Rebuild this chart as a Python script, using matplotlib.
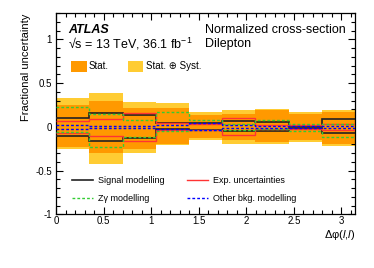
import numpy as np
import matplotlib
matplotlib.use("Agg")
import matplotlib.pyplot as plt
from matplotlib.patches import Rectangle
from matplotlib.lines import Line2D
from matplotlib.ticker import MultipleLocator, FormatStrFormatter

plt.rcParams["font.family"] = ["Liberation Sans", "DejaVu Sans"]
plt.rcParams["axes.unicode_minus"] = False
plt.rcParams["mathtext.fontset"] = "custom"
plt.rcParams["mathtext.rm"] = "Liberation Sans"
plt.rcParams["mathtext.it"] = "Liberation Sans:italic"

# 9 equal bins in delta phi(l,l)
edges = np.linspace(0, np.pi, 10)

stat_up = [0.25, 0.30, 0.22, 0.22, 0.14, 0.15, 0.19, 0.15, 0.17]
stat_dn = [-0.23, -0.30, -0.25, -0.19, -0.13, -0.155, -0.175, -0.15, -0.19]
tot_up = [0.335, 0.385, 0.29, 0.27, 0.17, 0.19, 0.21, 0.165, 0.19]
tot_dn = [-0.255, -0.42, -0.30, -0.205, -0.155, -0.195, -0.195, -0.17, -0.215]

sig_up = [0.107, 0.164, 0.137, 0.04, 0.045, 0.065, 0.061, 0.015, 0.086]
sig_dn = [-0.099, -0.16, -0.122, -0.02, -0.04, -0.05, -0.048, -0.01, -0.074]
exp_up = [0.069, 0.095, 0.16, 0.04, 0.03, 0.097, 0.023, 0.02, 0.03]
exp_dn = [-0.065, -0.099, -0.156, -0.03, -0.03, -0.093, -0.023, -0.02, -0.03]
zg_up = [0.229, 0.149, 0.08, 0.175, 0.084, 0.034, 0.084, 0.038, 0.03]
zg_dn = [-0.053, -0.225, -0.114, -0.046, -0.03, -0.03, -0.023, -0.046, -0.114]
bkg_up = [0.023, 0.015, 0.015, 0.02, 0.04, 0.02, 0.015, 0.015, 0.015]
bkg_dn = [-0.023, -0.015, -0.015, -0.023, -0.038, -0.015, -0.015, -0.015, -0.015]

C_STAT = "#ff9900"
C_TOT = "#ffcc33"
C_SIG = "#222222"
C_EXP = "#ff3333"
C_ZG = "#33cc33"
C_BKG = "#0000ff"

fig = plt.figure(figsize=(3.74, 2.68), dpi=100)
ax = fig.add_axes([0.150, 0.200, 0.799, 0.751])

ax.stairs(tot_up, edges, baseline=tot_dn, fill=True, color=C_TOT, lw=0, zorder=1)
ax.stairs(stat_up, edges, baseline=stat_dn, fill=True, color=C_STAT, lw=0, zorder=2)

styles = [
    (sig_up, sig_dn, dict(color=C_SIG, lw=1.2, ls="-")),
    (exp_up, exp_dn, dict(color=C_EXP, lw=1.0, ls="-")),
    (zg_up, zg_dn, dict(color=C_ZG, lw=1.0, ls=(0, (2.0, 1.5)))),
    (bkg_up, bkg_dn, dict(color=C_BKG, lw=1.0, ls=(0, (2.0, 1.5)))),
]
for i, (up, dn, kw) in enumerate(styles):
    ax.stairs(up, edges, baseline=None, zorder=3 + i, **kw)
    ax.stairs(dn, edges, baseline=None, zorder=3 + i, **kw)

ax.set_xlim(0, np.pi)
ax.set_ylim(-1, 1.3)
ax.xaxis.set_major_locator(MultipleLocator(0.5))
ax.xaxis.set_minor_locator(MultipleLocator(0.1))
ax.yaxis.set_major_locator(MultipleLocator(0.5))
ax.yaxis.set_minor_locator(MultipleLocator(0.1))
ax.xaxis.set_major_formatter(FormatStrFormatter("%g"))
ax.yaxis.set_major_formatter(FormatStrFormatter("%g"))
ax.tick_params(which="both", direction="in", top=True, right=True, labelsize=7, width=0.8)
ax.tick_params(which="major", length=5)
ax.tick_params(which="minor", length=2.8)
ax.tick_params(axis="y", pad=3)
ax.tick_params(axis="x", pad=1.5)
for sp in ax.spines.values():
    sp.set_linewidth(0.9)

ax.set_ylabel("Fractional uncertainty", fontsize=8, ha="right", va="bottom")
ax.yaxis.set_label_coords(-0.085, 1.0)
ax.set_xlabel("\u0394\u03c6($\\mathit{l}$,$\\mathit{l}$)", fontsize=8, ha="right", va="center")
ax.xaxis.set_label_coords(1.0, -0.10)

tr = ax.transAxes
ax.text(0.040, 0.915, "ATLAS", transform=tr, fontsize=9, fontweight="bold",
        fontstyle="italic", va="center")
ax.text(0.040, 0.845, "\u221as = 13 TeV, 36.1 fb$^{-1}$", transform=tr, fontsize=9, va="center")
ax.text(0.498, 0.915, "Normalized cross-section", transform=tr, fontsize=9, va="center")
ax.text(0.498, 0.845, "Dilepton", transform=tr, fontsize=9, va="center")

# band legend
ax.add_patch(Rectangle((0.050, 0.709), 0.053, 0.055, transform=tr, color=C_STAT, lw=0))
ax.text(0.109, 0.737, "Stat.", transform=tr, fontsize=7, va="center")
ax.add_patch(Rectangle((0.240, 0.709), 0.051, 0.055, transform=tr, color=C_TOT, lw=0))
ax.text(0.301, 0.737, "Stat. \u2295 Syst.", transform=tr, fontsize=7, va="center")

# line legend
entries = [
    (0.054, 0.170, "Signal modelling", styles[0][2]),
    (0.438, 0.170, "Exp. uncertainties", styles[1][2]),
    (0.054, 0.081, "Z\u03b3 modelling", styles[2][2]),
    (0.438, 0.081, "Other bkg. modelling", styles[3][2]),
]
for x0, y0, label, kw in entries:
    ax.add_line(Line2D([x0, x0 + 0.07], [y0, y0], transform=tr, **kw))
    ax.text(x0 + 0.087, y0, label, transform=tr, fontsize=6.5, va="center")

fig.savefig("out.png", dpi=100)
